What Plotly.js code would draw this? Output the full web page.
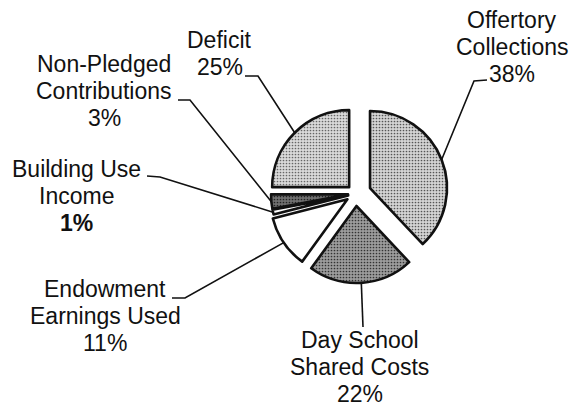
<!DOCTYPE html>
<html><head><meta charset="utf-8">
<script src="https://cdn.plot.ly/plotly-3.0.1.min.js"></script>
<style>html,body{margin:0;padding:0;background:#fff}#chart{width:571px;height:406px}</style>
</head><body><div id="chart"></div>
<script>
// ---- data ----
const categories = ["Offertory Collections","Day School Shared Costs","Endowment Earnings Used","Building Use Income","Non-Pledged Contributions","Deficit"];
const values = [38, 22, 11, 1, 3, 25];
const labelLines = [["Offertory","Collections"],["Day School","Shared Costs"],["Endowment","Earnings Used"],["Building Use","Income"],["Non-Pledged","Contributions"],["Deficit"]];

// ---- style ----
const W = 571, H = 406;
const pulls = [0.2, 0.16, 0.13, 0.1, 0.1, 0.12];
const bg = ["#d4d4d4", "#9c9c9c", "#ffffff", "#ffffff", "#707070", "#dadada"];
const fg = ["#555555", "#333333", "#ffffff", "#ffffff", "#222222", "#666666"];
const boldPct = [false, false, false, true, false, false];
const FS = 23, LINE = 27.3;
// label block placement (pixels): centre x, first baseline, leader stub start, elbow
const place = [
  {x: 512, b: 28,  stub: [487, 80],  elbow: [474, 81]},
  {x: 360, b: 348, stub: null,       elbow: [363, 327]},
  {x: 105, b: 297, stub: [172, 298], elbow: [185, 298]},
  {x: 76,  b: 177, stub: [147, 176], elbow: [160, 177]},
  {x: 104, b: 72,  stub: [178, 100], elbow: [190, 100]},
  {x: 220, b: 48,  stub: [245, 76],  elbow: [258, 76]}
];
const pie = {cx: 355.7, cy: 193.7, r: 77};

const maxPull = Math.max(...pulls);
const half = pie.r * (1 + maxPull);
const domX = [(pie.cx - half) / W, (pie.cx + half) / W];
const domY = [1 - (pie.cy + half) / H, 1 - (pie.cy - half) / H];

const total = values.reduce((a, b) => a + b, 0);
const px = x => x / W, py = y => 1 - y / H;

const shapes = [], annotations = [];
let cum = 0;
values.forEach((v, i) => {
  const mid = 2 * Math.PI * (cum + v / 2) / total;
  cum += v;
  const dx = Math.sin(mid), dy = -Math.cos(mid);
  const ex = pie.cx + (pulls[i] * pie.r + pie.r) * dx;
  const ey = pie.cy + (pulls[i] * pie.r + pie.r) * dy;
  const p = place[i];
  let path = `M ${px(ex)} ${py(ey)} L ${px(p.elbow[0])} ${py(p.elbow[1])}`;
  if (p.stub) path += ` L ${px(p.stub[0])} ${py(p.stub[1])}`;
  shapes.push({type: 'path', xref: 'paper', yref: 'paper', path: path, line: {color: '#111', width: 1.6}});
  const pct = Math.round(100 * v / total) + '%';
  const lines = labelLines[i].concat([boldPct[i] ? '<b>' + pct + '</b>' : pct]);
  lines.forEach((t, k) => {
    const base = p.b + k * LINE;
    annotations.push({xref: 'paper', yref: 'paper', x: px(p.x), y: py(base - 0.36 * FS),
      xanchor: 'center', yanchor: 'middle', showarrow: false, text: t,
      font: {family: 'Liberation Sans, Arial, sans-serif', size: FS, color: '#111'}});
  });
});

const trace = {
  type: 'pie', labels: categories, values: values, sort: false, direction: 'clockwise', rotation: 0,
  pull: pulls, textinfo: 'none', hoverinfo: 'label+percent', showlegend: false,
  domain: {x: domX, y: domY},
  marker: {colors: bg, line: {color: '#111', width: 2.6},
    pattern: {shape: ['.', '.', '', '', '.', '.'], fgcolor: fg, bgcolor: bg, size: 3, solidity: 0.25}}
};

Plotly.newPlot('chart', [trace], {
  width: W, height: H, margin: {l: 0, r: 0, t: 0, b: 0},
  paper_bgcolor: '#fff', plot_bgcolor: '#fff', showlegend: false,
  shapes: shapes, annotations: annotations
}, {displayModeBar: false, staticPlot: true});
</script></body></html>
